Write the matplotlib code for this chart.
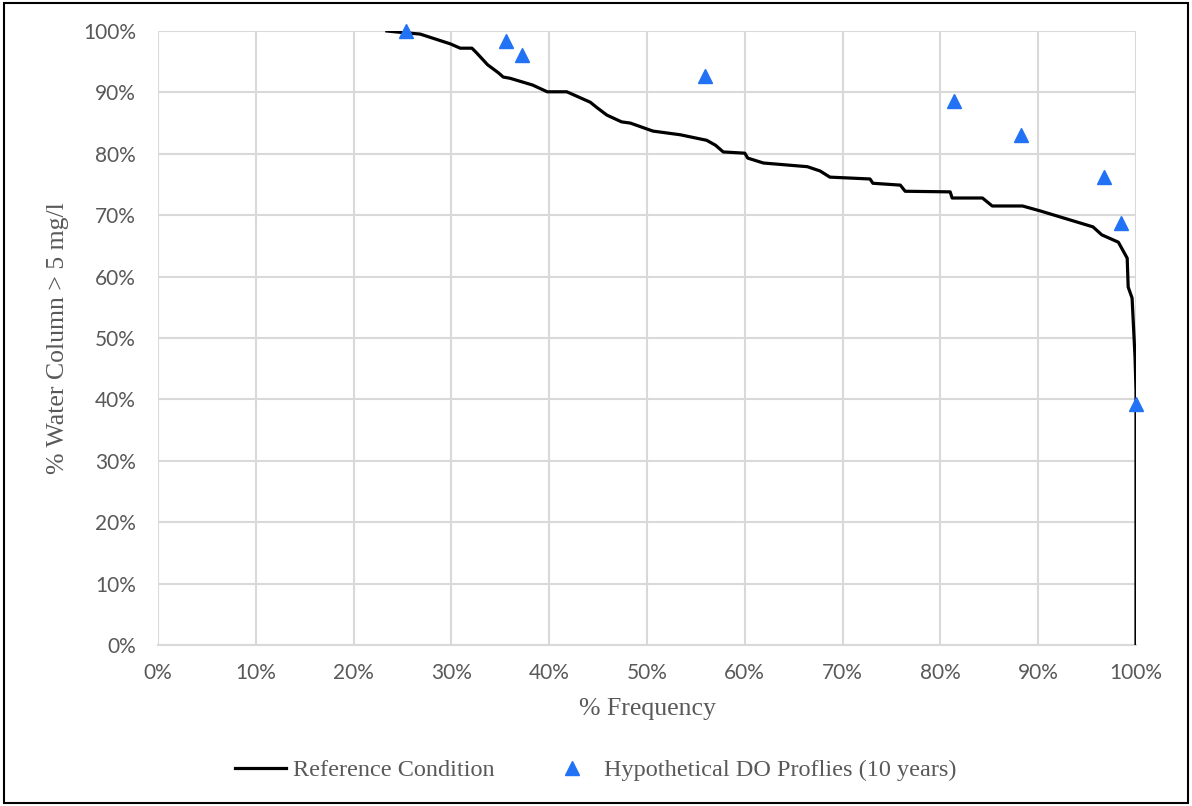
import matplotlib.pyplot as plt
from matplotlib.ticker import PercentFormatter, MultipleLocator
from matplotlib.patches import Rectangle

# reference condition curve (% frequency, % water column > 5 mg/l)
ref_freq = [23.4, 24.7, 26.8, 29.9, 30.9, 32.1, 32.6, 33.7, 34.8, 35.3, 36.0, 38.3,
            39.8, 41.8, 44.2, 44.9, 45.9, 47.4, 48.3, 50.6, 53.4, 56.1, 57.0, 57.8,
            60.0, 60.3, 61.9, 66.4, 67.7, 68.7, 72.8, 73.1, 75.9, 76.4, 81.0, 81.2,
            84.3, 85.3, 88.4, 90.2, 95.6, 96.5, 98.2, 99.1, 99.2, 99.6, 99.9, 100.0,
            100.0]
ref_wc = [100.0, 99.8, 99.5, 97.9, 97.2, 97.2, 96.4, 94.5, 93.2, 92.5, 92.3, 91.2,
          90.1, 90.1, 88.4, 87.5, 86.3, 85.2, 85.0, 83.7, 83.1, 82.2, 81.4, 80.3,
          80.1, 79.3, 78.5, 77.9, 77.2, 76.2, 75.9, 75.2, 74.9, 73.9, 73.8, 72.8,
          72.8, 71.5, 71.5, 70.7, 68.1, 66.8, 65.6, 63.0, 58.3, 56.5, 46.9, 41.5,
          0.0]

# hypothetical DO profiles over 10 years
hyp_freq = [25.4, 35.6, 37.2, 55.9, 81.4, 88.2, 96.7, 98.5, 100.0]
hyp_wc = [100.0, 98.4, 96.1, 92.7, 88.6, 83.1, 76.2, 68.7, 39.3]

plt.rcParams['font.family'] = ['Liberation Serif', 'DejaVu Serif']

W, H = 1192, 806
fig = plt.figure(figsize=(W / 100, H / 100), dpi=100)
ax = fig.add_axes([158 / W, 1 - 645 / H, (1136 - 158) / W, (645 - 31) / H])

ax.plot(ref_freq, ref_wc, color='black', lw=2.3, label='Reference Condition',
        solid_joinstyle='round', zorder=3)
ax.plot(hyp_freq, hyp_wc, linestyle='none', marker='^', ms=10, color='#2172f4',
        label='Hypothetical DO Proflies (10 years)', clip_on=False, zorder=4)

ax.set_xlim(0, 100)
ax.set_ylim(0, 100)
ax.xaxis.set_major_locator(MultipleLocator(10))
ax.yaxis.set_major_locator(MultipleLocator(10))
ax.xaxis.set_major_formatter(PercentFormatter(decimals=0))
ax.yaxis.set_major_formatter(PercentFormatter(decimals=0))

ax.grid(True, color='#d9d9d9', lw=1.5)
ax.set_axisbelow(True)
for side in ['top', 'right', 'left']:
    ax.spines[side].set_visible(False)
ax.spines['bottom'].set_color('#d9d9d9')
ax.spines['bottom'].set_linewidth(1.5)
ax.tick_params(length=0, labelsize=15, colors='#595959')
ax.tick_params(axis='x', pad=13)
ax.tick_params(axis='y', pad=16)
for lbl in ax.get_xticklabels() + ax.get_yticklabels():
    lbl.set_family('Lato')

ax.set_xlabel('% Frequency', fontsize=18.5, color='#595959', labelpad=11)
ax.set_ylabel('% Water Column > 5 mg/l', fontsize=18.5, color='#595959', labelpad=10)

fig.legend(loc='center', bbox_to_anchor=(0.5, 1 - 770 / H), ncol=2, frameon=False,
           fontsize=17.5, labelcolor='#595959', handlelength=2.1, columnspacing=2.1,
           handletextpad=0.3)

# chart border
fig.patches.append(Rectangle((4 / W, 3 / H), (1188 - 4) / W, (803 - 3) / H,
                             transform=fig.transFigure, fill=False,
                             edgecolor='black', lw=1.5))

fig.savefig('out.png', dpi=100)
